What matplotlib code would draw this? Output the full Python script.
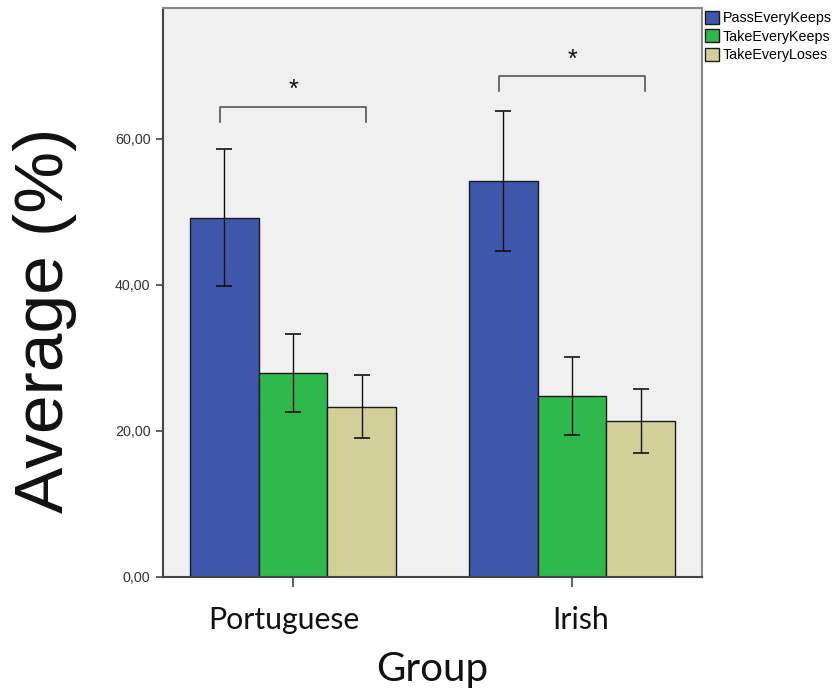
import numpy as np
import matplotlib.pyplot as plt
from matplotlib.patches import Patch
from matplotlib.transforms import ScaledTranslation

groups = ['Portuguese', 'Irish']
series = ['PassEveryKeeps', 'TakeEveryKeeps', 'TakeEveryLoses']
means = {
    'PassEveryKeeps': [49.2, 54.2],
    'TakeEveryKeeps': [27.9, 24.8],
    'TakeEveryLoses': [23.3, 21.4],
}
errs = {
    'PassEveryKeeps': [9.4, 9.6],
    'TakeEveryKeeps': [5.3, 5.3],
    'TakeEveryLoses': [4.3, 4.4],
}
colors = ['#3e57aa', '#2fb84b', '#d3cf98']
# significance brackets: (group index, bracket height, tip length)
brackets = [(0, 64.4, 2.1), (1, 68.6, 2.1)]

fig = plt.figure(figsize=(8.35, 6.91), dpi=100)
ax = fig.add_axes([163 / 835, 1 - 577 / 691, (702 - 163) / 835, (577 - 8) / 691])
ax.set_facecolor('#f0f0f0')

x = np.arange(len(groups))
w = 0.247
for i, (name, c) in enumerate(zip(series, colors)):
    pos = x + (i - 1) * w
    ax.bar(pos, means[name], width=w, color=c, edgecolor='#1a1a1a', linewidth=1.0, zorder=2)
    ax.errorbar(pos, means[name], yerr=errs[name], fmt='none', ecolor='#111111',
                elinewidth=1.0, capsize=5.5, capthick=1.2, zorder=3)

for g, h, tip in brackets:
    x0, x1 = g - 0.26, g + 0.26
    ax.plot([x0, x0, x1, x1], [h - tip, h, h, h - tip], color='#555555', lw=1.2, zorder=3)
    ax.text(g, h + 0.6, '*', ha='center', va='bottom', fontsize=18,
            family='Liberation Sans', color='#111111')

ax.set_xlim(-0.466, 1.466)
ax.set_ylim(0, 77.9)
ax.set_yticks([0, 20, 40, 60])
ax.set_yticklabels(['0,00', '20,00', '40,00', '60,00'], family='Liberation Sans',
                   fontsize=10.3, color='#333333')
ax.set_xticks(x)
ax.set_xticklabels(groups, family='Lato', fontsize=21.8, color='#111111')
ax.tick_params(axis='y', length=5, width=1.2, color='#444444', pad=4)
ax.tick_params(axis='x', length=7, width=1.2, color='#444444', pad=14)

# nudge the group names slightly off their ticks
for lab, dx in zip(ax.get_xticklabels(), [-0.09, 0.09]):
    lab.set_transform(lab.get_transform() + ScaledTranslation(dx, 0, fig.dpi_scale_trans))

for side in ['left', 'bottom']:
    ax.spines[side].set_color('#444444')
    ax.spines[side].set_linewidth(1.5)
for side in ['top', 'right']:
    ax.spines[side].set_color('#888888')
    ax.spines[side].set_linewidth(1.5)

ax.set_xlabel('Group', family='Lato', fontsize=29, labelpad=12, color='#111111')
fig.text(45 / 835, 1 - 320 / 691, 'Average (%)', rotation=90, ha='center', va='center',
         family='Liberation Sans', fontsize=50, color='#111111')

handles = [Patch(facecolor=c, edgecolor='#1a1a1a', linewidth=1.0) for c in colors]
fig.legend(handles, series, loc='upper left', bbox_to_anchor=(702 / 835, 1 - 8 / 691),
           frameon=False, prop={'family': 'Liberation Sans', 'size': 10.3},
           handlelength=1.0, handleheight=1.0, handletextpad=0.25, labelspacing=0.3,
           borderpad=0.2, borderaxespad=0)

fig.savefig('out.png', dpi=100, facecolor='white')
